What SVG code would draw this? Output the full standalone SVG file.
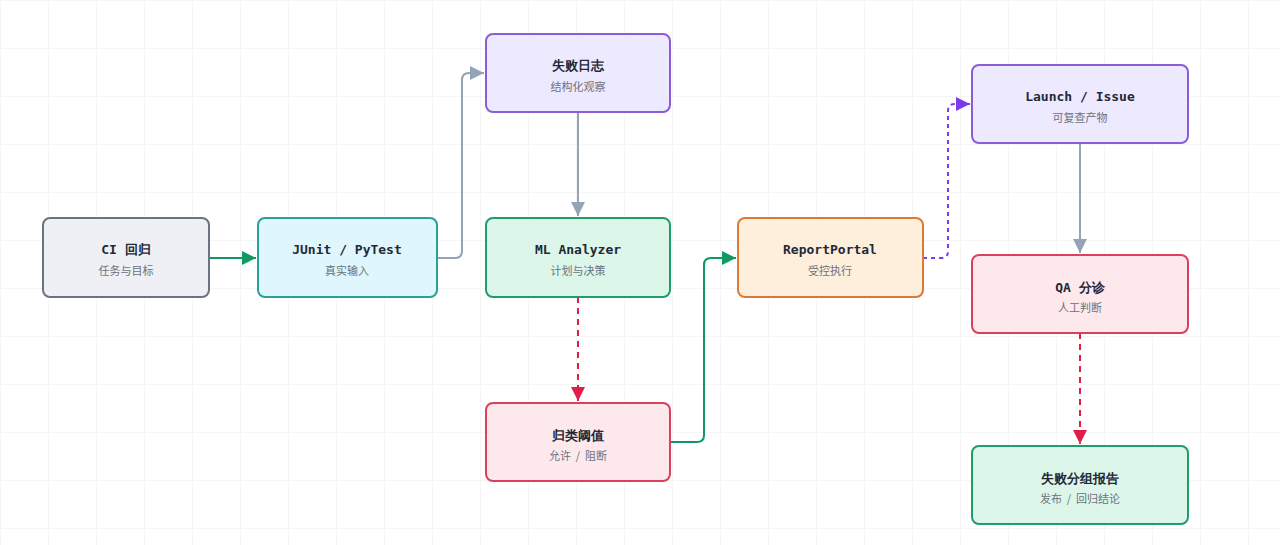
<svg xmlns="http://www.w3.org/2000/svg" width="1280" height="545" viewBox="0 0 1280 545">
<defs>
<pattern id="grid" width="48" height="48" patternUnits="userSpaceOnUse"><path d="M48 0H0V48" fill="none" stroke="#eeeeee" stroke-width="1"/></pattern>
<marker id="ag" viewBox="0 0 10 10" refX="10" refY="5" markerWidth="7" markerHeight="7" orient="auto"><path d="M0 0L10 5L0 10z" fill="#0f9960"/></marker>
<marker id="ay" viewBox="0 0 10 10" refX="10" refY="5" markerWidth="7" markerHeight="7" orient="auto"><path d="M0 0L10 5L0 10z" fill="#94a3b8"/></marker>
<marker id="ar" viewBox="0 0 10 10" refX="10" refY="5" markerWidth="7" markerHeight="7" orient="auto"><path d="M0 0L10 5L0 10z" fill="#e11d48"/></marker>
<marker id="ap" viewBox="0 0 10 10" refX="10" refY="5" markerWidth="7" markerHeight="7" orient="auto"><path d="M0 0L10 5L0 10z" fill="#7c3aed"/></marker>
</defs>
<style>
.t{font-family:"DejaVu Sans Mono","Liberation Mono",monospace;font-weight:bold;font-size:13px;fill:#1f2937;text-anchor:middle}
.s{font-family:"Noto Sans CJK SC","Noto Sans",sans-serif;font-size:11px;fill:#6b7280;text-anchor:middle}
.b{stroke-width:2}
.c{fill:none;stroke-width:2}
</style>
<rect width="1280" height="545" fill="#ffffff"/>
<rect width="1280" height="545" fill="url(#grid)"/>
<g id="connectors">
<path class="c" d="M209 258H256" stroke="#0f9960" stroke-width="2.5" marker-end="url(#ag)"/>
<path class="c" d="M437 258H455Q462 258 462 251V80Q462 73 469 73H484" stroke="#94a3b8" marker-end="url(#ay)"/>
<path class="c" d="M578 112V216" stroke="#94a3b8" marker-end="url(#ay)"/>
<path class="c" d="M578 297V401" stroke="#e11d48" stroke-dasharray="6 5" marker-end="url(#ar)"/>
<path class="c" d="M670 442H697Q704 442 704 435V265Q704 258 711 258H736" stroke="#0f9960" marker-end="url(#ag)"/>
<path class="c" d="M923 258H941Q948 258 948 251V111Q948 104 955 104H970" stroke="#7c3aed" stroke-dasharray="4 4" marker-end="url(#ap)"/>
<path class="c" d="M1080 143V253" stroke="#94a3b8" marker-end="url(#ay)"/>
<path class="c" d="M1080 333V444" stroke="#e11d48" stroke-dasharray="6 5" marker-end="url(#ar)"/>
</g>
<g id="n1"><rect class="b" x="43" y="218" width="166" height="79" rx="7" fill="#eef0f5" stroke="#6b7280"/><text class="t" x="126" y="254">CI 回归</text><text class="s" x="126" y="275">任务与目标</text></g>
<g id="n2"><rect class="b" x="258" y="218" width="179" height="79" rx="7" fill="#dff6fc" stroke="#2aa198"/><text class="t" x="347" y="254">JUnit / PyTest</text><text class="s" x="347" y="275">真实输入</text></g>
<g id="n3"><rect class="b" x="486" y="34" width="184" height="78" rx="7" fill="#ede9fe" stroke="#8b5cd6"/><text class="t" x="578" y="70">失败日志</text><text class="s" x="578" y="91">结构化观察</text></g>
<g id="n4"><rect class="b" x="486" y="218" width="184" height="79" rx="7" fill="#dcf7ea" stroke="#1f9d6a"/><text class="t" x="578" y="254">ML Analyzer</text><text class="s" x="578" y="275">计划与决策</text></g>
<g id="n5"><rect class="b" x="486" y="403" width="184" height="78" rx="7" fill="#fde8ec" stroke="#d9415c"/><text class="t" x="578" y="440">归类阈值</text><text class="s" x="578" y="460">允许&#160; / &#160;阻断</text></g>
<g id="n6"><rect class="b" x="738" y="218" width="185" height="79" rx="7" fill="#feeedc" stroke="#dd7a32"/><text class="t" x="830" y="254">ReportPortal</text><text class="s" x="830" y="275">受控执行</text></g>
<g id="n7"><rect class="b" x="972" y="65" width="216" height="78" rx="7" fill="#ede9fe" stroke="#8b5cd6"/><text class="t" x="1080" y="101">Launch / Issue</text><text class="s" x="1080" y="122">可复查产物</text></g>
<g id="n8"><rect class="b" x="972" y="255" width="216" height="78" rx="7" fill="#fde8ec" stroke="#d9415c"/><text class="t" x="1080" y="292">QA 分诊</text><text class="s" x="1080" y="312">人工判断</text></g>
<g id="n9"><rect class="b" x="972" y="446" width="216" height="78" rx="7" fill="#dcf7ea" stroke="#1f9d6a"/><text class="t" x="1080" y="483">失败分组报告</text><text class="s" x="1080" y="503">发布&#160; / &#160;回归结论</text></g>
</svg>
